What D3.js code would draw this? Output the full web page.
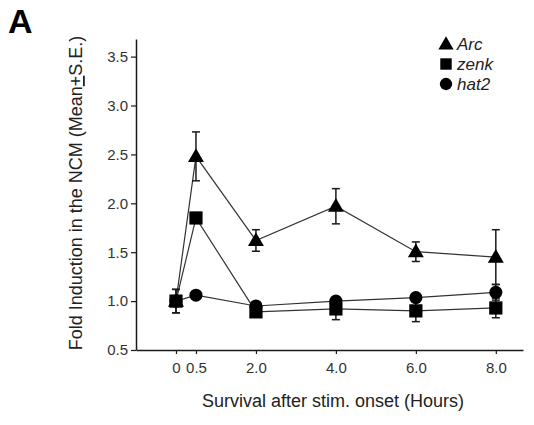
<!DOCTYPE html>
<html><head><meta charset="utf-8">
<script src="https://cdn.jsdelivr.net/npm/d3@7"></script>
<style>
html,body{margin:0;padding:0;background:#fff;}
text{font-family:"Liberation Sans",Arial,sans-serif;}
</style></head>
<body><svg id="c" width="534" height="425"></svg>
<script>
const times = [0, 0.5, 2, 4, 6, 8];
const xTickLabels = ["0", "0.5", "2.0", "4.0", "6.0", "8.0"];
const yTicks = [0.5, 1.0, 1.5, 2.0, 2.5, 3.0, 3.5];
const seriesNames = ["Arc", "zenk", "hat2"];
const arcMean = [1.0, 2.48, 1.62, 1.97, 1.505, 1.45];
const arcErr = [0.12, 0.25, 0.11, 0.18, 0.10, 0.28];
const zenkMean = [1.0, 1.85, 0.89, 0.92, 0.90, 0.93];
const zenkErr = [0.12, 0.02, 0.03, 0.11, 0.11, 0.10];
const hat2Mean = [1.0, 1.06, 0.95, 1.0, 1.035, 1.09];
const hat2Err = [0.05, 0.02, 0.02, 0.03, 0.03, 0.08];

const svg = d3.select("#c");
svg.append("rect").attr("width",534).attr("height",425).attr("fill","#fff");

const x = d3.scaleLinear().domain([-1, 8.68]).range([136, 523]);
const y = d3.scaleLinear().domain([0.5, 3.68]).range([350, 39]);
const ink = "#1a1a1a";

// axes
const yAxis = svg.append("g").attr("transform","translate(136,0)")
  .call(d3.axisLeft(y).tickValues(yTicks).tickFormat(d3.format(".1f")).tickSize(5).tickPadding(3).tickSizeOuter(0));
const xAxis = svg.append("g").attr("transform","translate(0,350)")
  .call(d3.axisBottom(x).tickValues(times).tickFormat((d,i)=>xTickLabels[i]).tickSize(4).tickPadding(8).tickSizeOuter(0));
[yAxis,xAxis].forEach(g=>{
  g.select(".domain").attr("stroke",ink).attr("stroke-width",1.5);
  g.selectAll(".tick line").attr("stroke",ink).attr("stroke-width",1.2);
  g.selectAll(".tick text").attr("fill","#333").style("font-size","15px").style("font-family","'Liberation Sans',Arial,sans-serif");
});

const series = [
  {name: seriesNames[0], mean: arcMean, err: arcErr, sym: d3.symbolTriangle, size: 110},
  {name: seriesNames[1], mean: zenkMean, err: zenkErr, sym: d3.symbolSquare, size: 175},
  {name: seriesNames[2], mean: hat2Mean, err: hat2Err, sym: d3.symbolCircle, size: 135}
];

const line = d3.line().x(d=>x(d[0])).y(d=>y(d[1]));
series.forEach(s=>{
  const pts = times.map((t,i)=>[t, s.mean[i], s.err[i]]);
  svg.append("path").attr("d", line(pts)).attr("fill","none").attr("stroke","#333").attr("stroke-width",1.2);
  const g = svg.append("g");
  pts.forEach(p=>{
    const cx = x(p[0]), hi = y(p[1]+p[2]), lo = y(p[1]-p[2]);
    g.append("line").attr("x1",cx).attr("x2",cx).attr("y1",hi).attr("y2",lo).attr("stroke",ink).attr("stroke-width",1.5);
    [hi,lo].forEach(v=>g.append("line").attr("x1",cx-4).attr("x2",cx+4).attr("y1",v).attr("y2",v).attr("stroke",ink).attr("stroke-width",1.5));
  });
  pts.forEach(p=>{
    g.append("path").attr("d", d3.symbol().type(s.sym).size(s.size)())
      .attr("transform",`translate(${x(p[0])},${y(p[1]) + (s.sym===d3.symbolTriangle?1:0)})`).attr("fill","#000");
  });
});

// legend
series.forEach((s,i)=>{
  const ly = 44 + i*20;
  svg.append("path").attr("d", d3.symbol().type(s.sym).size(s.sym===d3.symbolTriangle?100:(s.sym===d3.symbolSquare?130:120))())
    .attr("transform",`translate(446,${ly+(s.sym===d3.symbolTriangle?1:0)})`).attr("fill","#000");
  svg.append("text").attr("x",457).attr("y",ly+6).text(s.name)
    .attr("fill","#222").style("font-size","17px").style("font-style","italic");
});

// titles
svg.append("text").attr("x",333).attr("y",407).attr("text-anchor","middle")
  .attr("fill","#222").style("font-size","18px").text("Survival after stim. onset  (Hours)");
const yt = svg.append("text").attr("transform","translate(82,193) rotate(-90)").attr("text-anchor","middle")
  .attr("fill","#222").style("font-size","18px");
yt.append("tspan").text("Fold Induction in the NCM (Mean");
yt.append("tspan").attr("text-decoration","underline").text("+");
yt.append("tspan").text("S.E.)");

svg.append("text").attr("x",8).attr("y",33).attr("fill","#000")
  .style("font-size","34px").style("font-weight","bold").text("A");
</script></body></html>
